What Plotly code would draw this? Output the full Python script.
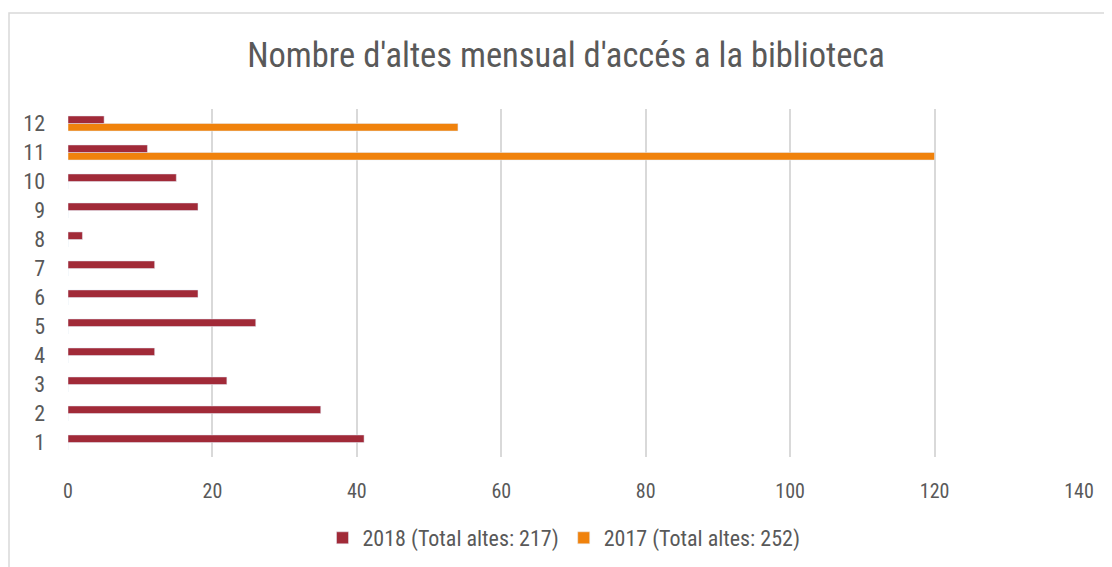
import plotly.graph_objects as go

months = ["1", "2", "3", "4", "5", "6", "7", "8", "9", "10", "11", "12"]
values_2018 = [41, 35, 22, 12, 26, 18, 12, 2, 18, 15, 11, 5]
values_2017 = [0, 0, 0, 0, 0, 0, 0, 0, 0, 0, 120, 54]
name_2018 = "2018 (Total altes: 217)"
name_2017 = "2017 (Total altes: 252)"
title_text = "Nombre d'altes mensual d'accés a la biblioteca"
x_ticks = [0, 20, 40, 60, 80, 100, 120, 140]

FONT = "Liberation Sans Narrow, Arial Narrow, Roboto Condensed, sans-serif"
TXT = "#595959"

L, R, T, B = 60, 41, 101, 118
W, H = 1112, 567
PW = W - L - R
PH = H - T - B

fig = go.Figure()
fig.add_trace(go.Bar(
    y=months, x=values_2017, orientation="h", name=name_2017,
    marker=dict(color="#F0820C"), legendrank=2,
))
fig.add_trace(go.Bar(
    y=months, x=values_2018, orientation="h", name=name_2018,
    marker=dict(color="#A12A38"), legendrank=1,
))

fig.update_layout(
    width=W, height=H,
    margin=dict(l=L, r=R, t=T, b=B, autoexpand=False),
    paper_bgcolor="white", plot_bgcolor="white",
    barmode="group", bargap=0.48, bargroupgap=0,
    font=dict(family=FONT, color=TXT, size=20),
    title=dict(text=title_text, xref="container", x=(566 - 8) / W, xanchor="center",
               y=1 - 47 / H, yanchor="middle",
               font=dict(family=FONT, size=34.5, color=TXT)),
    showlegend=True,
    legend=dict(orientation="h", x=(564 - 8 - L) / PW, xanchor="center",
                y=-(538 - 8 - (T + PH)) / PH, yanchor="middle",
                font=dict(family=FONT, size=22, color=TXT), itemwidth=30,
                traceorder="normal"),
    xaxis=dict(range=[0, 140], tickvals=x_ticks, showgrid=True, gridcolor="#d9d9d9",
               gridwidth=1.5, zeroline=False, showline=False,
               tickfont=dict(family=FONT, size=20, color=TXT), ticklabelstandoff=20),
    yaxis=dict(type="category", categoryorder="array", categoryarray=months,
               showgrid=False, zeroline=False, showline=False,
               tickfont=dict(family=FONT, size=22, color=TXT), ticklabelstandoff=22),
    shapes=[dict(type="rect", xref="paper", yref="paper",
                 x0=(1 - L) / PW, x1=1.2, y0=-1, y1=1 + (T - 5) / PH,
                 line=dict(color="#d9d9d9", width=1.5), fillcolor="rgba(0,0,0,0)", layer="below")],
)

fig.write_html("out.html")
